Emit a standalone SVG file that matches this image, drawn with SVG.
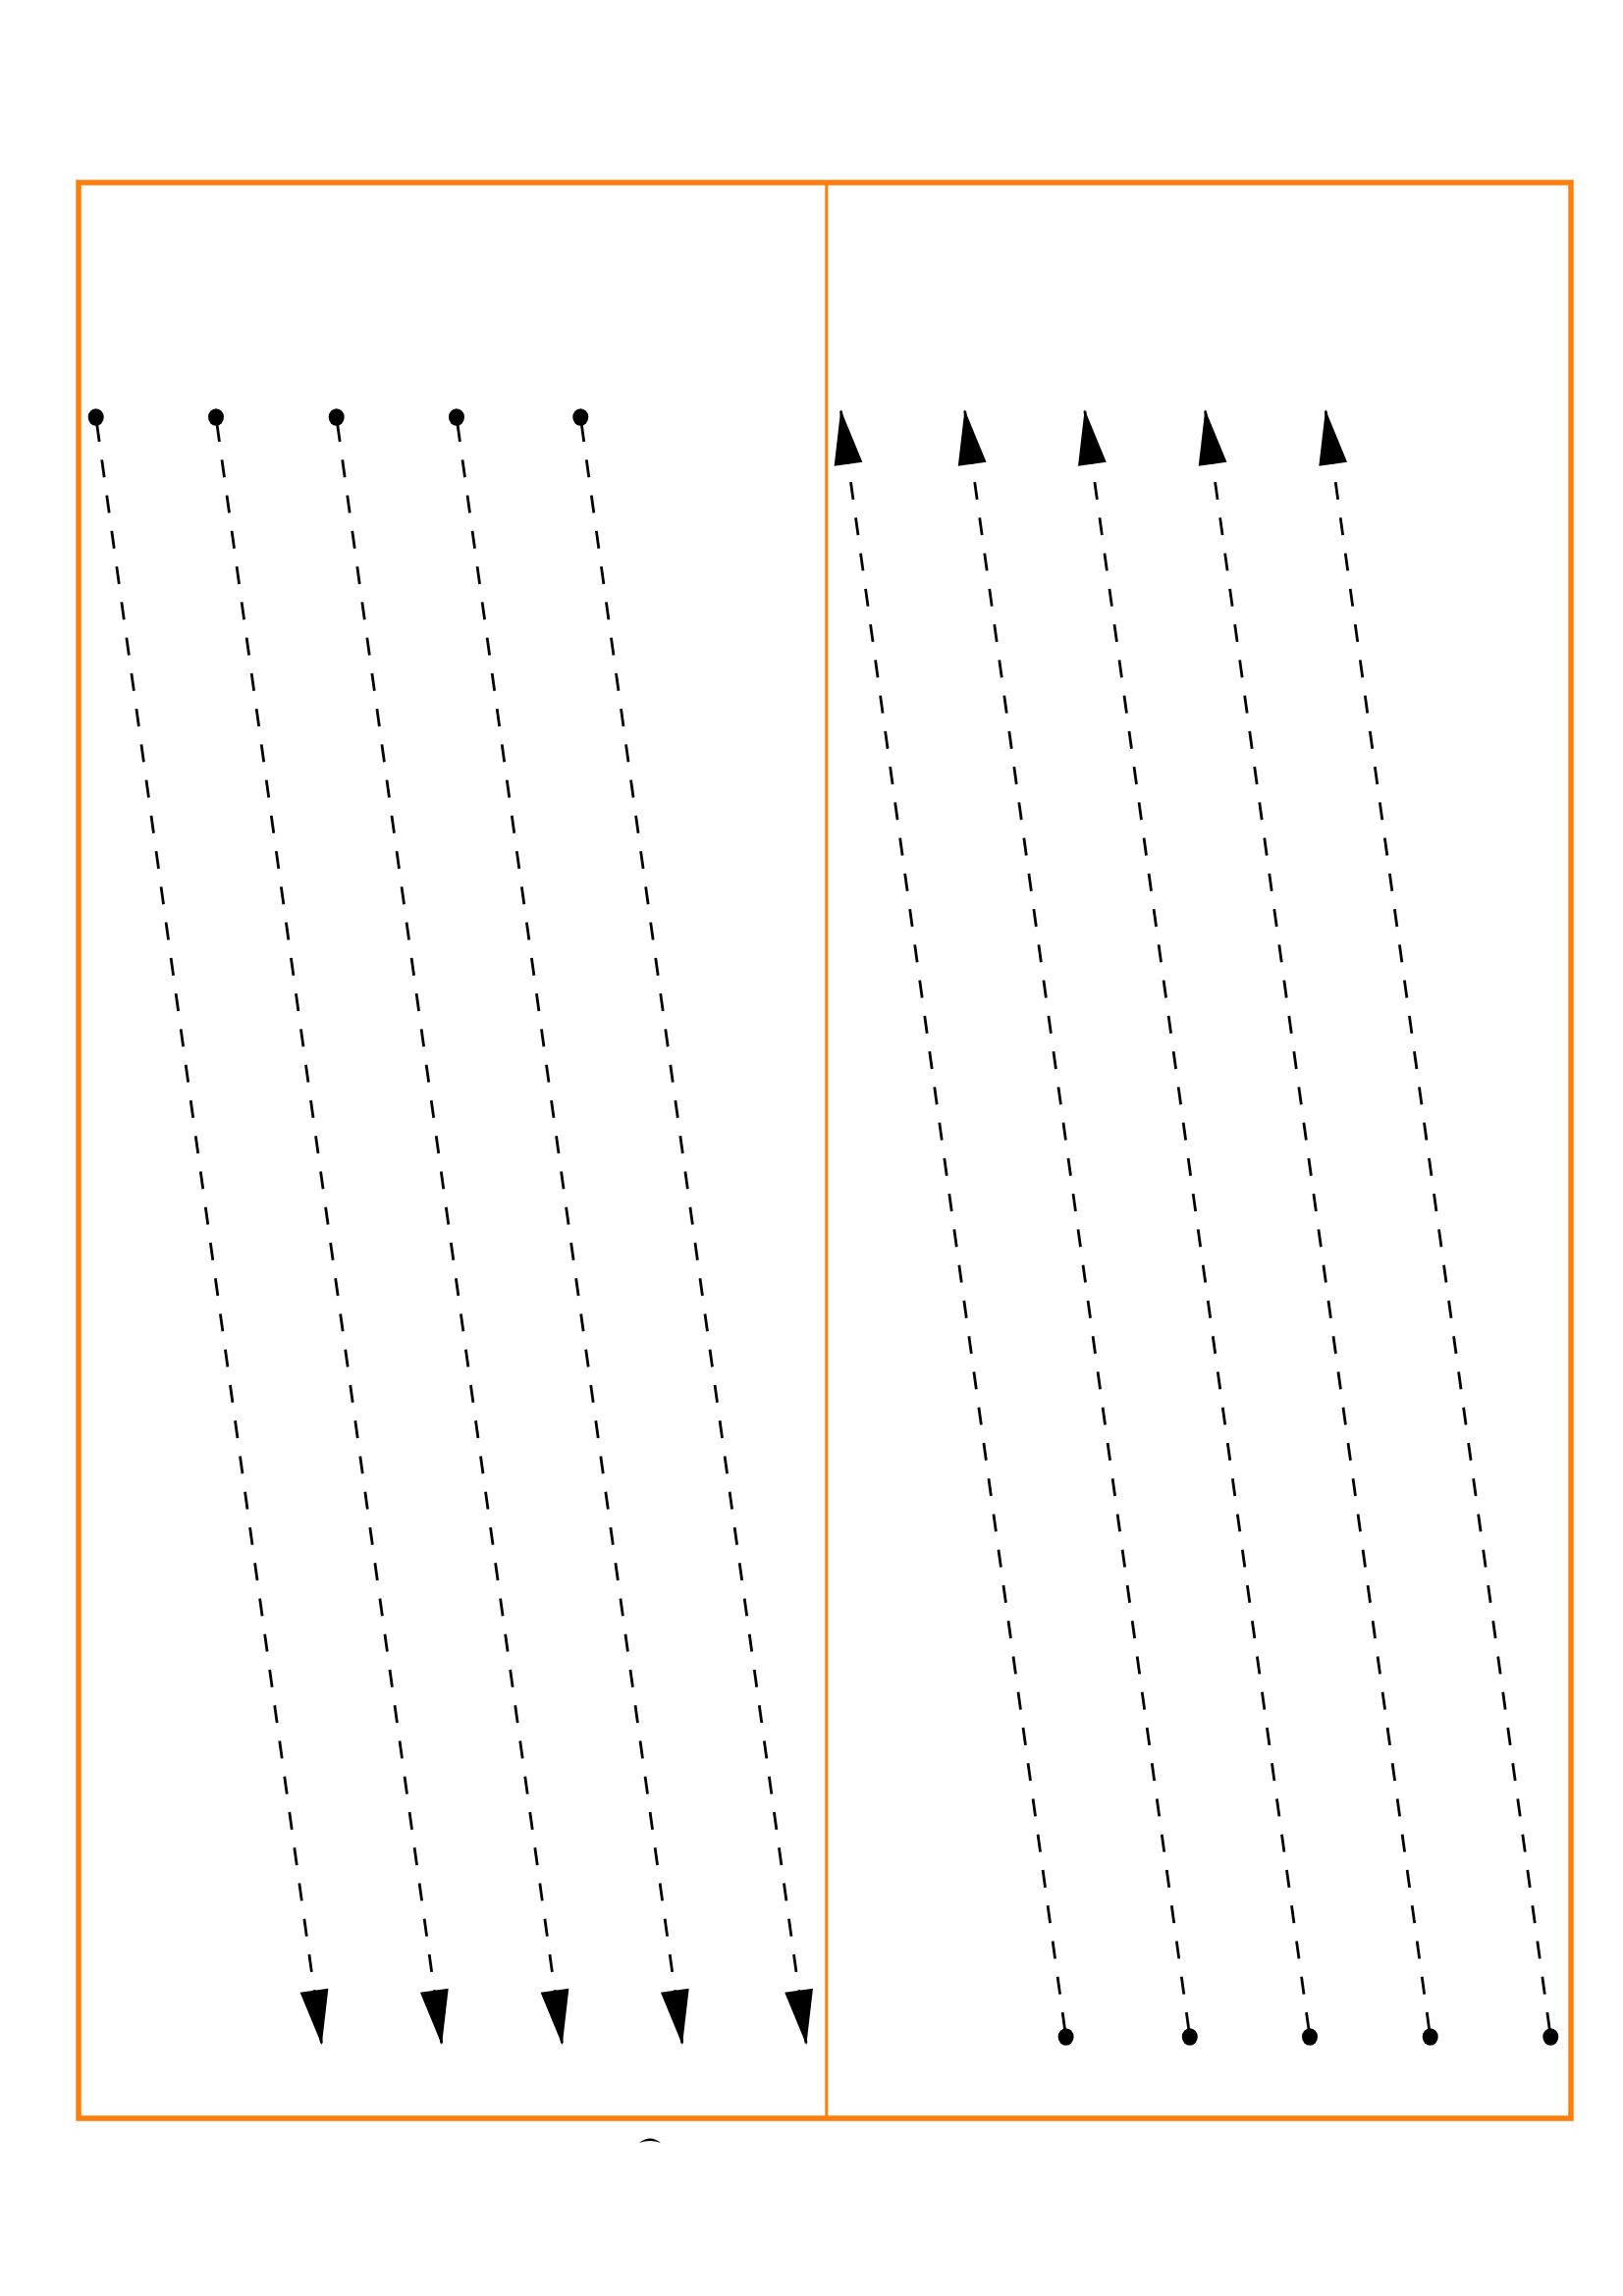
<svg xmlns="http://www.w3.org/2000/svg" width="1653" height="2339" viewBox="0 0 1653 2339">
  <style>
    .frame { fill: none; stroke: #ff7f0e; stroke-width: 5.5; }
    .divider { stroke: #ff7f0e; stroke-width: 3; }
    .edge { fill: none; stroke: #000000; stroke-width: 2.8; stroke-dasharray: 18 18.6; stroke-dashoffset: 29.4; marker-start: url(#dot); marker-end: url(#arrow); }
  </style>
  <defs>
    <marker id="arrow" markerUnits="userSpaceOnUse" viewBox="-60 -16 64 32" markerWidth="64" markerHeight="32" refX="0" refY="0" orient="auto" overflow="visible">
      <path d="M -56 -14.5 L 0 0 L -56 14.5 Z" fill="#000000" stroke="none"/>
    </marker>
    <marker id="dot" markerUnits="userSpaceOnUse" viewBox="-10 -10 20 20" markerWidth="20" markerHeight="20" refX="0" refY="0" orient="0" overflow="visible">
      <ellipse cx="0" cy="0" rx="8" ry="8.8" fill="#000000" stroke="none"/>
    </marker>
  </defs>
  <rect width="1653" height="2339" fill="#ffffff"/>
  <g id="frame">
    <rect class="frame" x="80" y="186" width="1520" height="1972"/>
    <line class="divider" x1="841.8" y1="186" x2="841.8" y2="2158"/>
  </g>
  <g id="connectors">
    <path class="edge" d="M 97.7 425 L 327.7 2083.3"/>
    <path class="edge" d="M 220 425 L 450 2083.3"/>
    <path class="edge" d="M 342.7 425 L 572.7 2083.3"/>
    <path class="edge" d="M 465 425 L 695 2083.3"/>
    <path class="edge" d="M 591.3 425 L 821.3 2083.3"/>
    <path class="edge" d="M 1085.6 2075 L 856.3 417.3"/>
    <path class="edge" d="M 1211.8 2075 L 982.5 417.3"/>
    <path class="edge" d="M 1334 2075 L 1104.7 417.3"/>
    <path class="edge" d="M 1456.7 2075 L 1227.4 417.3"/>
    <path class="edge" d="M 1579.3 2075 L 1350 417.3"/>
  </g>
  <path id="fragment" d="M 651 2183 Q 662 2174 673 2183 Q 662 2179 651 2183 Z" fill="#000000"/>
</svg>
